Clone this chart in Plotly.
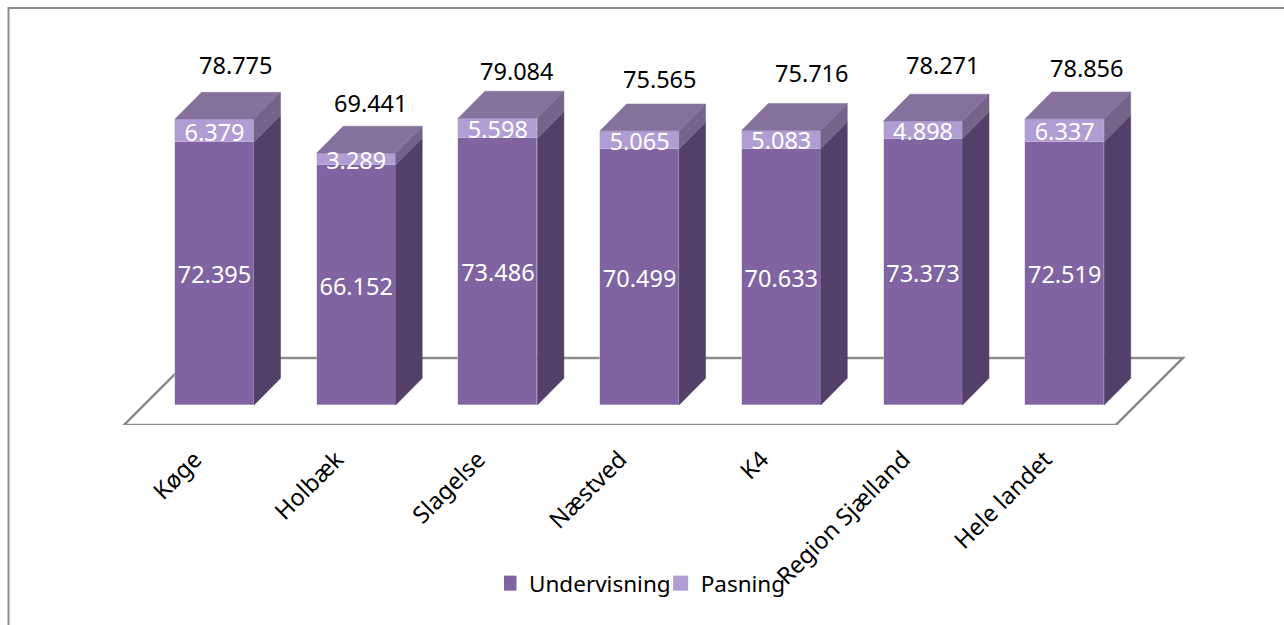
import plotly.graph_objects as go

# ---- data ----
categories = ["Køge", "Holbæk", "Slagelse", "Næstved", "K4", "Region Sjælland", "Hele landet"]
undervisning = [72.395, 66.152, 73.486, 70.499, 70.633, 73.373, 72.519]
pasning = [6.379, 3.289, 5.598, 5.065, 5.083, 4.898, 6.337]
totals = [78.775, 69.441, 79.084, 75.565, 75.716, 78.271, 78.856]

# ---- hand placement of the total labels (pixels, relative to the bar's front top) ----
total_dx = [21, 15, 19, 20.5, 31, 19.5, 22]
total_dy = [54, 50, 47, 52, 57, 56, 51]

# ---- layout geometry ----
W, H = 1284, 625
PLOT_L, PLOT_R, PLOT_T, PLOT_B = 100, 1200, 20, 425
FLOOR_L, BASE_PX = 124, 405
PX_PER_CAT, PX_PER_UNIT = 141.7, 3.63
BAR_SHIFT = (214.5 - FLOOR_L) / PX_PER_CAT - 0.5
BAR_W = 79 / PX_PER_CAT
DX, DY = 26.5 / PX_PER_CAT, 26.7 / PX_PER_UNIT
LABEL_DROP = 4 / PX_PER_UNIT

x_range = [-0.5 - (FLOOR_L - PLOT_L) / PX_PER_CAT, -0.5 + (PLOT_R - FLOOR_L) / PX_PER_CAT]
y_range = [-(PLOT_B - BASE_PX) / PX_PER_UNIT, (BASE_PX - PLOT_T) / PX_PER_UNIT]

def paper_x(px):
    return (px - PLOT_L) / (PLOT_R - PLOT_L)

def paper_y(py):
    return (PLOT_B - py) / (PLOT_B - PLOT_T)

FONT = "Noto Sans"
COL_FRONT_U, COL_FRONT_P = "#8064A2", "#B19CD3"
COL_SIDE_U, COL_SIDE_P, COL_TOP = "#533F68", "#75638A", "#85719B"
EDGE = "#CFC4DE"

positions = [i + BAR_SHIFT for i in range(len(categories))]
tops = [u + p for u, p in zip(undervisning, pasning)]

fig = go.Figure()

# front faces
fig.add_bar(x=positions, y=undervisning, width=BAR_W, marker=dict(color=COL_FRONT_U, line=dict(color=EDGE, width=0.5)),
            name="Undervisning", legendgroup="u", showlegend=False, hoverinfo="skip")
fig.add_bar(x=positions, y=pasning, width=BAR_W, marker=dict(color=COL_FRONT_P, line=dict(color=EDGE, width=0.5)),
            name="Pasning", legendgroup="p", showlegend=False, hoverinfo="skip")

# depth faces, all computed from the values
def polygons(corners):
    xs, ys = [], []
    for poly in corners:
        xs += [c[0] for c in poly] + [poly[0][0], None]
        ys += [c[1] for c in poly] + [poly[0][1], None]
    return xs, ys

def side(low, high):
    out = []
    for p, a, b in zip(positions, low, high):
        r = p + BAR_W / 2
        out.append([(r, a), (r + DX, a + DY), (r + DX, b + DY), (r, b)])
    return out

def top_face():
    out = []
    for p, t in zip(positions, tops):
        l, r = p - BAR_W / 2, p + BAR_W / 2
        out.append([(l, t), (r, t), (r + DX, t + DY), (l + DX, t + DY)])
    return out

for corners, col in [(side([0] * len(tops), undervisning), COL_SIDE_U),
                     (side(undervisning, tops), COL_SIDE_P),
                     (top_face(), COL_TOP)]:
    xs, ys = polygons(corners)
    fig.add_scatter(x=xs, y=ys, mode="lines", fill="toself", fillcolor=col,
                    line=dict(color=col, width=0.5), showlegend=False, hoverinfo="skip")

# value labels
fig.add_scatter(x=positions, y=[u / 2 - LABEL_DROP for u in undervisning], mode="text",
                text=[f"{v:.3f}" for v in undervisning], textposition="middle center",
                textfont=dict(family=FONT, size=23.5, color="white"), showlegend=False, hoverinfo="skip")
fig.add_scatter(x=positions, y=[u + p / 2 - LABEL_DROP for u, p in zip(undervisning, pasning)], mode="text",
                text=[f"{v:.3f}" for v in pasning], textposition="middle center",
                textfont=dict(family=FONT, size=23.5, color="white"), showlegend=False, hoverinfo="skip")

# legend carriers with larger square keys
fig.add_scatter(x=[None], y=[None], mode="markers", name="Undervisning", legendgroup="u",
                marker=dict(symbol="square", size=15, color=COL_FRONT_U), hoverinfo="skip")
fig.add_scatter(x=[None], y=[None], mode="markers", name="Pasning", legendgroup="p",
                marker=dict(symbol="square", size=15, color=COL_FRONT_P), hoverinfo="skip")

# total labels
for p, t, v, dx, dy in zip(positions, tops, totals, total_dx, total_dy):
    fig.add_annotation(x=p, y=t, xref="x", yref="y", text=f"{v:.3f}", showarrow=False,
                       xshift=dx, yshift=dy, font=dict(family=FONT, size=23.5, color="black"))

# floor of the 3-D box
fl, fr = -0.5, len(categories) - 0.5
fy = y_range[0]
by = (BASE_PX - 358) / PX_PER_UNIT
shift = 67 / PX_PER_CAT
floor_path = f"M {fl},{fy} L {fr},{fy} L {fr + shift},{by} L {fl + shift},{by} Z"
shapes = [
    dict(type="path", path=floor_path, xref="x", yref="y", layer="below",
         line=dict(color="#8C8C8C", width=2.5)),
    dict(type="path", xref="paper", yref="paper", layer="below",
         path=f"M {paper_x(8.5)},{paper_y(H + 5)} L {paper_x(8.5)},{paper_y(8)} L {paper_x(W + 5)},{paper_y(8)}",
         line=dict(color="#8C8C8C", width=2)),
]

fig.update_layout(
    width=W, height=H, barmode="stack", bargap=0,
    paper_bgcolor="white", plot_bgcolor="rgba(0,0,0,0)",
    margin=dict(l=PLOT_L, r=W - PLOT_R, t=PLOT_T, b=H - PLOT_B, autoexpand=False),
    shapes=shapes,
    showlegend=True,
    legend=dict(orientation="h", x=paper_x(504), y=paper_y(562), xanchor="left", yanchor="top",
                font=dict(family=FONT, size=22.5, color="black"), indentation=-15,
                bgcolor="rgba(0,0,0,0)", traceorder="normal"),
    xaxis=dict(range=x_range, tickmode="array", tickvals=list(range(len(categories))), ticktext=categories,
               tickangle=-45, ticks="", ticklabelstandoff=15, showgrid=False, zeroline=False, showline=False,
               tickfont=dict(family=FONT, size=23.5, color="black"), fixedrange=True),
    yaxis=dict(range=y_range, visible=False, showgrid=False, zeroline=False, fixedrange=True),
)

fig.write_html("out.html", config={"displayModeBar": False},
               post_script="document.body.style.margin='0';document.documentElement.style.overflow='hidden';")
